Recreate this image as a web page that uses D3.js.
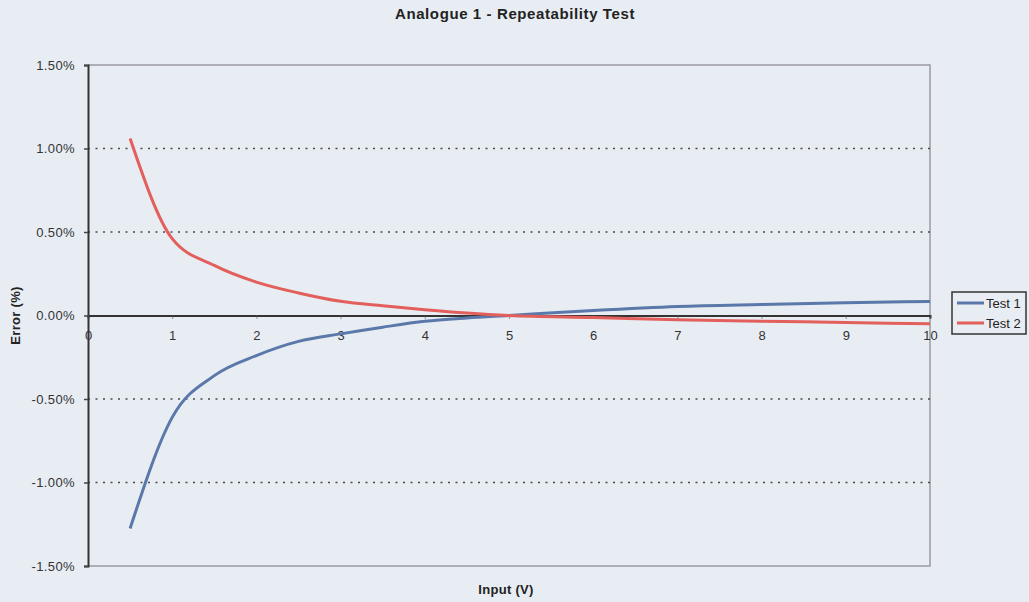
<!DOCTYPE html>
<html>
<head>
<meta charset="utf-8">
<script src="https://cdn.jsdelivr.net/npm/d3@7"></script>
<style>
  html, body { margin: 0; padding: 0; background: #e8edf3; }
  svg { display: block; font-family: "Liberation Sans", Arial, sans-serif; }
</style>
</head>
<body>
<svg id="chart" width="1029" height="602"></svg>
<script>
// Input voltage (V) at which each error reading was taken
const inputs = [0.5, 1, 1.5, 2, 2.5, 3, 3.5, 4, 4.5, 5, 6, 7, 8, 9, 10];
// Error (%) for each run
const test1 = [-1.275, -0.61, -0.36, -0.24, -0.155, -0.11, -0.07, -0.035, -0.015, 0, 0.03, 0.054, 0.066, 0.076, 0.084];
const test2 = [1.06, 0.46, 0.30, 0.20, 0.135, 0.085, 0.058, 0.035, 0.015, 0, -0.012, -0.026, -0.034, -0.042, -0.05];
const seriesNames = ["Test 1", "Test 2"];
const seriesColors = ["#5a78aa", "#e35f5c"];
const xTicks = [0, 1, 2, 3, 4, 5, 6, 7, 8, 9, 10];
const yTicks = [1.5, 1.0, 0.5, 0, -0.5, -1.0, -1.5];
const gridValues = [1.0, 0.5, -0.5, -1.0];

const svg = d3.select("#chart");
const plotLeft = 88, plotRight = 930, plotTop = 65, plotBottom = 566;
const font = "Liberation Sans, Arial, sans-serif";

const x = d3.scaleLinear().domain([0, 10]).range([plotLeft, plotRight]);
const y = d3.scaleLinear().domain([-1.5, 1.5]).range([plotBottom, plotTop]);

// Percent labels with a plain hyphen for negatives
const pct = d => (d < 0 ? "-" : "") + Math.abs(d).toFixed(2) + "%";

// Title
svg.append("text")
  .attr("x", 515).attr("y", 19)
  .attr("text-anchor", "middle")
  .attr("font-size", 15).attr("font-weight", "bold").attr("fill", "#222")
  .attr("letter-spacing", 0.6)
  .text("Analogue 1 - Repeatability Test");

// Plot frame (top, right, bottom in light grey)
svg.append("path")
  .attr("d", `M${plotLeft},${plotTop}H${plotRight}V${plotBottom}H${plotLeft}`)
  .attr("fill", "none").attr("stroke", "#9a9aa2").attr("stroke-width", 1.5);

// Dotted gridlines
svg.append("g").selectAll("line").data(gridValues).join("line")
  .attr("x1", plotLeft).attr("x2", plotRight)
  .attr("y1", d => y(d)).attr("y2", d => y(d))
  .attr("stroke", "#4a4a4a").attr("stroke-width", 1.6)
  .attr("stroke-dasharray", "2,5.5");

// Y axis
const yAxis = d3.axisLeft(y).tickValues(yTicks).tickFormat(pct)
  .tickSize(4).tickPadding(9);
const gy = svg.append("g").attr("transform", `translate(${plotLeft},0)`).call(yAxis);
gy.select(".domain").attr("stroke", "#333").attr("stroke-width", 2);
gy.selectAll(".tick line").attr("stroke", "#444").attr("stroke-width", 1.5);
gy.selectAll(".tick text").attr("font-size", 13).attr("fill", "#333")
  .attr("letter-spacing", 0.4).attr("font-family", font);

// X axis along the zero line
const xAxis = d3.axisBottom(x).tickValues(xTicks).tickFormat(d3.format("d"))
  .tickSize(3).tickPadding(12);
const gx = svg.append("g").attr("transform", `translate(0,${y(0)})`).call(xAxis);
gx.select(".domain").attr("stroke", "#333").attr("stroke-width", 2);
gx.selectAll(".tick line").attr("stroke", "#555").attr("stroke-width", 1.2)
  .attr("stroke-dasharray", "1,1");
gx.selectAll(".tick text").attr("font-size", 13).attr("fill", "#333")
  .attr("font-family", font);

// Axis titles
svg.append("text")
  .attr("transform", `translate(20,${y(0)}) rotate(-90)`)
  .attr("text-anchor", "middle")
  .attr("font-size", 13).attr("font-weight", "bold").attr("fill", "#222")
  .attr("letter-spacing", 0.3)
  .text("Error (%)");
svg.append("text")
  .attr("x", 506).attr("y", 594)
  .attr("text-anchor", "middle")
  .attr("font-size", 13).attr("font-weight", "bold").attr("fill", "#222")
  .attr("letter-spacing", 0.3)
  .text("Input (V)");

// Series lines
const line = d3.line().x(d => x(d[0])).y(d => y(d[1])).curve(d3.curveMonotoneX);
[test1, test2].forEach((vals, i) => {
  svg.append("path")
    .datum(inputs.map((v, j) => [v, vals[j]]))
    .attr("fill", "none")
    .attr("stroke", seriesColors[i])
    .attr("stroke-width", 3)
    .attr("stroke-linejoin", "round")
    .attr("d", line);
});

// Legend
const lg = svg.append("g").attr("transform", "translate(952,292)");
lg.append("rect").attr("width", 74).attr("height", 42)
  .attr("fill", "#e8edf3").attr("stroke", "#333").attr("stroke-width", 1.5);
seriesNames.forEach((name, i) => {
  const yy = 11 + i * 20;
  lg.append("line").attr("x1", 5).attr("x2", 32).attr("y1", yy).attr("y2", yy)
    .attr("stroke", seriesColors[i]).attr("stroke-width", 3);
  lg.append("text").attr("x", 34).attr("y", yy + 5)
    .attr("font-size", 13).attr("fill", "#222").text(name);
});
</script>
</body>
</html>
